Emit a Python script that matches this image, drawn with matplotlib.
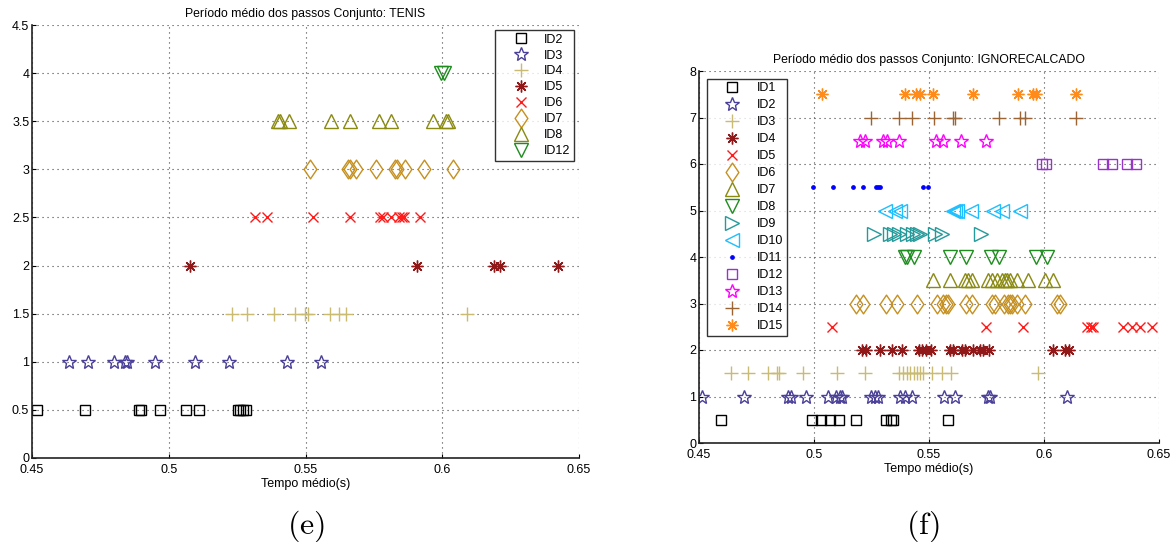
import matplotlib
matplotlib.use("Agg")
import matplotlib.pyplot as plt
from matplotlib.path import Path

plt.rcParams['font.family'] = ['Liberation Sans', 'DejaVu Sans']
plt.rcParams['mathtext.fontset'] = 'cm'

# ---------------- Data: TENIS ----------------
tenis_labels = ['ID2', 'ID3', 'ID4', 'ID5', 'ID6', 'ID7', 'ID8', 'ID12']
tenis_levels = [0.5, 1.0, 1.5, 2.0, 2.5, 3.0, 3.5, 4.0]
tenis_id2 = [0.4518, 0.4694, 0.4890, 0.4900, 0.4969, 0.5062, 0.5111, 0.5253, 0.5262, 0.5273, 0.5283]
tenis_id3 = [0.4636, 0.4705, 0.4798, 0.4839, 0.4846, 0.4948, 0.5097, 0.5221, 0.5432, 0.5556]
tenis_id4 = [0.5232, 0.5286, 0.5386, 0.5462, 0.5497, 0.5508, 0.5590, 0.5621, 0.5648, 0.6092]
tenis_id5 = [0.5079, 0.5906, 0.6190, 0.6211, 0.6424]
tenis_id6 = [0.5315, 0.5360, 0.5528, 0.5662, 0.5772, 0.5783, 0.5814, 0.5841, 0.5852, 0.5859, 0.5920]
tenis_id7 = [0.5517, 0.5655, 0.5662, 0.5685, 0.5756, 0.5827, 0.5834, 0.5862, 0.5933, 0.6038]
tenis_id8 = [0.5400, 0.5407, 0.5439, 0.5593, 0.5662, 0.5769, 0.5811, 0.5965, 0.6013, 0.6020]
tenis_id12 = [0.5996, 0.6007]

# ---------------- Data: IGNORECALCADO ----------------
ign_labels = ['ID1', 'ID2', 'ID3', 'ID4', 'ID5', 'ID6', 'ID7', 'ID8', 'ID9', 'ID10',
              'ID11', 'ID12', 'ID13', 'ID14', 'ID15']
ign_levels = [0.5, 1.0, 1.5, 2.0, 2.5, 3.0, 3.5, 4.0, 4.5, 5.0, 5.5, 6.0, 6.5, 7.0, 7.5]
ign_id1 = [0.4597, 0.4992, 0.5031, 0.5070, 0.5108, 0.5181, 0.5312, 0.5334, 0.5344, 0.5584]
ign_id2 = [0.4515, 0.4696, 0.4885, 0.4900, 0.4965, 0.5060, 0.5096, 0.5111, 0.5122, 0.5249,
           0.5264, 0.5278, 0.5373, 0.5395, 0.5424, 0.5565, 0.5613, 0.5758, 0.5765, 0.6100]
ign_id3 = [0.4638, 0.4711, 0.4801, 0.4837, 0.4849, 0.4951, 0.5099, 0.5223, 0.5370, 0.5387,
           0.5405, 0.5419, 0.5434, 0.5448, 0.5460, 0.5472, 0.5511, 0.5555, 0.5594, 0.5973]
ign_id4 = [0.5210, 0.5227, 0.5285, 0.5341, 0.5384, 0.5457, 0.5470, 0.5486, 0.5507, 0.5591,
           0.5605, 0.5645, 0.5656, 0.5693, 0.5722, 0.5733, 0.5763, 0.6037, 0.6093, 0.6110]
ign_id5 = [0.5079, 0.5747, 0.5907, 0.6187, 0.6205, 0.6213, 0.6344, 0.6381, 0.6417, 0.6468]
ign_id6 = [0.5181, 0.5213, 0.5315, 0.5363, 0.5448, 0.5533, 0.5562, 0.5576, 0.5584, 0.5661,
           0.5685, 0.5773, 0.5787, 0.5824, 0.5845, 0.5853, 0.5860, 0.5882, 0.5918, 0.6056, 0.6068]
ign_id7 = [0.5518, 0.5591, 0.5656, 0.5668, 0.5685, 0.5758, 0.5773, 0.5795, 0.5816, 0.5831,
           0.5841, 0.5853, 0.5882, 0.5930, 0.6005, 0.6039]
ign_id8 = [0.5395, 0.5405, 0.5435, 0.5591, 0.5661, 0.5768, 0.5806, 0.5965, 0.6013]
ign_id9 = [0.5259, 0.5332, 0.5347, 0.5370, 0.5405, 0.5431, 0.5448, 0.5463, 0.5528, 0.5555, 0.5725]
ign_id10 = [0.5307, 0.5351, 0.5373, 0.5605, 0.5613, 0.5623, 0.5681, 0.5780, 0.5816, 0.5896]
ign_id11 = [0.4995, 0.5082, 0.5169, 0.5213, 0.5271, 0.5278, 0.5285, 0.5472, 0.5496]
ign_id12 = [0.5991, 0.6008, 0.6257, 0.6296, 0.6362, 0.6401]
ign_id13 = [0.5198, 0.5220, 0.5300, 0.5317, 0.5370, 0.5530, 0.5562, 0.5639, 0.5748]
ign_id14 = [0.5249, 0.5370, 0.5427, 0.5521, 0.5605, 0.5613, 0.5805, 0.5896, 0.5918, 0.6141]
ign_id15 = [0.5035, 0.5395, 0.5445, 0.5463, 0.5518, 0.5693, 0.5886, 0.5952, 0.5965, 0.6141]

x_ticks = [0.45, 0.5, 0.55, 0.6, 0.65]
x_ticklabels = ['0.45', '0.5', '0.55', '0.6', '0.65']
tenis_yticks = [0, 0.5, 1, 1.5, 2, 2.5, 3, 3.5, 4, 4.5]
ign_yticks = [0, 1, 2, 3, 4, 5, 6, 7, 8]

# ---------------- Styles ----------------
diamond = Path([(0, 1), (0.68, 0), (0, -1), (-0.68, 0), (0, 1)],
               [Path.MOVETO, Path.LINETO, Path.LINETO, Path.LINETO, Path.CLOSEPOLY])
asterisk = (8, 2, 0)

C_BLACK = '#000000'
C_SLATE = '#4a4099'
C_KHAKI = '#c9bb72'
C_DRED = '#901818'
C_RED = '#ff1a1a'
C_GOLD = '#c59020'
C_OLIVE = '#8a8a10'
C_GREEN = '#1e8c1e'
C_TEAL = '#249a9a'
C_SKY = '#1ebeff'
C_BLUE = '#0000ff'
C_PURPLE = '#9933cc'
C_MAG = '#ff00ff'
C_BROWN = '#9c6432'
C_ORANGE = '#ff8c1a'

# marker, size, colour
tenis_styles = [('s', 7.3, C_BLACK), ('*', 10.5, C_SLATE), ('+', 10, C_KHAKI), (asterisk, 8.5, C_DRED),
                ('x', 7.5, C_RED), (diamond, 13.5, C_GOLD), ('^', 10.5, C_OLIVE), ('v', 10.5, C_GREEN)]
ign_styles = [('s', 7.3, C_BLACK), ('*', 10.5, C_SLATE), ('+', 10, C_KHAKI), (asterisk, 8.5, C_DRED),
              ('x', 7.5, C_RED), (diamond, 13.5, C_GOLD), ('^', 10.5, C_OLIVE), ('v', 10.5, C_GREEN),
              ('>', 10.5, C_TEAL), ('<', 10.5, C_SKY), ('o', 2.4, C_BLUE), ('s', 7.3, C_PURPLE),
              ('*', 10.5, C_MAG), ('+', 10, C_BROWN), (asterisk, 8.5, C_ORANGE)]

tenis_series = [tenis_id2, tenis_id3, tenis_id4, tenis_id5, tenis_id6, tenis_id7, tenis_id8, tenis_id12]
ign_series = [ign_id1, ign_id2, ign_id3, ign_id4, ign_id5, ign_id6, ign_id7, ign_id8, ign_id9,
              ign_id10, ign_id11, ign_id12, ign_id13, ign_id14, ign_id15]

W, H = 1174, 542
fig = plt.figure(figsize=(W / 100, H / 100), dpi=100)
axL = fig.add_axes([32 / W, (H - 458) / H, 547 / W, 433 / H])
axR = fig.add_axes([699 / W, (H - 443) / H, 460 / W, 372 / H])

FS = 9


def draw(ax, series, levels, labels, styles):
    for xs, lvl, lab, (m, ms, c) in zip(series, levels, labels, styles):
        filled = (m == 'o')
        ax.plot(xs, [lvl] * len(xs), linestyle='none', marker=m, markersize=ms,
                markeredgecolor=c, markerfacecolor=c if filled else 'none',
                markeredgewidth=1.0, label=lab)


def style_axes(ax, yticks, ylim):
    ax.set_xlim(x_ticks[0], x_ticks[-1])
    ax.set_ylim(*ylim)
    ax.set_xticks(x_ticks)
    ax.set_xticklabels(x_ticklabels)
    ax.set_yticks(yticks)
    ax.set_yticklabels([('%g' % v) for v in yticks])
    ax.grid(True, linestyle=(0, (1, 3.5)), color='#444444', linewidth=0.8)
    ax.set_axisbelow(True)
    for s in ['top', 'right']:
        ax.spines[s].set_visible(False)
    for s in ['left', 'bottom']:
        ax.spines[s].set_linewidth(1.2)
        ax.spines[s].set_color('#222222')
    ax.tick_params(direction='in', length=3, width=0.8, labelsize=FS, pad=2)
    ax.tick_params(axis='x', pad=4)
    ax.set_xlabel('Tempo médio(s)', fontsize=FS, labelpad=2)


draw(axL, tenis_series, tenis_levels, tenis_labels, tenis_styles)
style_axes(axL, tenis_yticks, (0, 4.5))
axL.set_title('Período médio dos passos Conjunto: TENIS', fontsize=8.8, pad=6)
legL = axL.legend(loc='upper right', fontsize=FS, frameon=True, fancybox=False,
                  edgecolor='black', borderpad=0.3, labelspacing=0.31, handletextpad=0.0,
                  handlelength=3.6, borderaxespad=0.4, markerscale=1.0)
legL.get_frame().set_linewidth(1.0)

draw(axR, ign_series, ign_levels, ign_labels, ign_styles)
style_axes(axR, ign_yticks, (0, 8))
axR.set_title('Período médio dos passos Conjunto: IGNORECALCADO', fontsize=8.8, pad=6)
legR = axR.legend(loc='upper left', fontsize=FS, frameon=True, fancybox=False,
                  edgecolor='black', borderpad=0.3, labelspacing=0.4, handletextpad=0.2,
                  handlelength=3.5, borderaxespad=0.6, markerscale=1.0)
legR.get_frame().set_linewidth(1.0)

fig.text(306 / W, 1 - 526 / H, r'$\mathrm{(e)}$', ha='center', va='center', fontsize=23)
fig.text(923 / W, 1 - 526 / H, r'$\mathrm{(f)}$', ha='center', va='center', fontsize=23)

fig.savefig('out.png', dpi=100)
